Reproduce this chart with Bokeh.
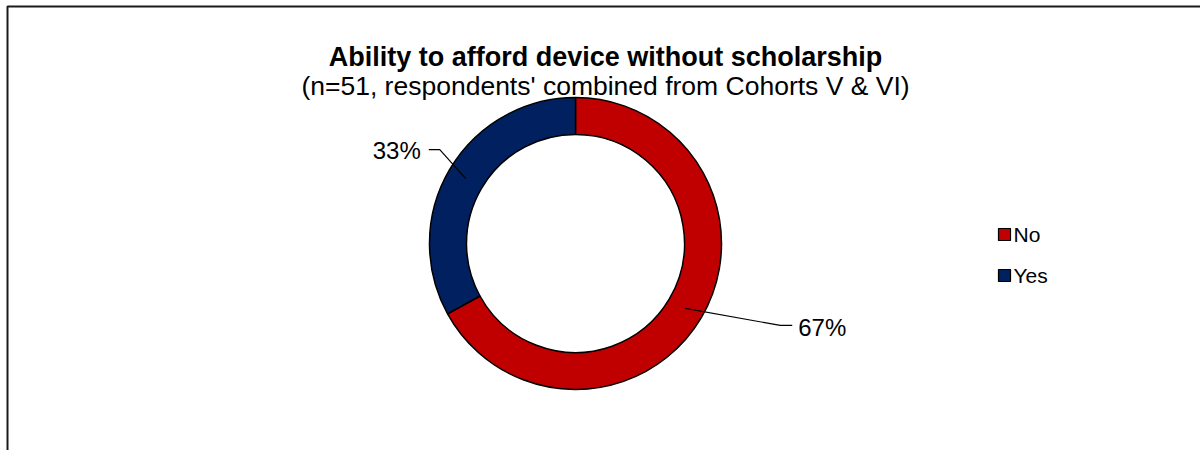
import math
from bokeh.plotting import figure
from bokeh.models import Range1d
from bokeh.embed import file_html
from bokeh.resources import INLINE
from bokeh.core.properties import value

# ---- data ----
title_text = "Ability to afford device without scholarship"
subtitle_text = "(n=51, respondents' combined from Cohorts V & VI)"
categories = ["No", "Yes"]
shares = [67, 33]
pct_labels = ["67%", "33%"]
colors = ["#C00000", "#002060"]

FONT = value("Liberation Sans")
W, H = 1200, 450


def X(px):
    return px


def Y(py):
    return H - py


p = figure(width=W, height=H, x_range=Range1d(0, W), y_range=Range1d(0, H),
           output_backend="svg", toolbar_location=None, min_border=0)
p.axis.visible = False
p.grid.visible = False
p.outline_line_color = None
p.background_fill_color = "white"
p.border_fill_color = "white"

# chart-area frame (only top and left edges fall inside the crop)
p.line([X(7), X(7), X(1210)], [Y(460), Y(6), Y(6)],
       line_color="#1a1a1a", line_width=2)

# donut
cx, cy = X(575), Y(243)
r_in, r_out = 109, 146
total = float(sum(shares))
starts, ends, mids = [], [], []
cum = 0.0
for v in shares:
    a0 = math.pi / 2 - 2 * math.pi * cum / total
    a1 = math.pi / 2 - 2 * math.pi * (cum + v) / total
    starts.append(a0)
    ends.append(a1)
    mids.append((a0 + a1) / 2)
    cum += v

p.annular_wedge(x=[cx] * len(shares), y=[cy] * len(shares),
                inner_radius=r_in, outer_radius=r_out,
                inner_radius_units="screen", outer_radius_units="screen",
                start_angle=starts, end_angle=ends, direction="clock",
                fill_color=colors, line_color="black", line_width=1.5)

# data labels with leader lines
r_mid = (r_in + r_out) / 2
for lab, m in zip(pct_labels, mids):
    sx = cx + r_mid * math.cos(m)
    sy = cy + r_mid * math.sin(m)
    if math.cos(m) >= 0:
        ex, ey = sx + 95, sy - 17
        hx = ex + 12
        p.line([sx, ex, hx], [sy, ey, ey], line_color="black", line_width=1.2)
        p.text(x=[hx + 6], y=[ey - 2], text=[lab], text_font=FONT,
               text_font_size="24px", text_color="black",
               text_align="left", text_baseline="middle")
    else:
        ex, ey = sx - 26, sy + 29
        hx = ex - 11
        p.line([sx, ex, hx], [sy, ey, ey], line_color="black", line_width=1.2)
        p.text(x=[hx - 8], y=[ey - 1], text=[lab], text_font=FONT,
               text_font_size="24px", text_color="black",
               text_align="right", text_baseline="middle")

# legend
leg_x = X(1004)
leg_y0 = Y(234)
pitch = 41
for i, (c, name) in enumerate(zip(colors, categories)):
    yy = leg_y0 - i * pitch
    p.scatter(x=[leg_x], y=[yy], marker="square", size=12,
              fill_color=c, line_color="black", line_width=1.2)
    p.text(x=[leg_x + 9], y=[yy], text=[name], text_font=FONT,
           text_font_size="21px", text_color="black",
           text_align="left", text_baseline="middle")

# titles
tx = X(605)
p.text(x=[tx], y=[Y(56)], text=[title_text], text_font=FONT,
       text_font_size="27px", text_font_style="bold", text_color="black",
       text_align="center", text_baseline="alphabetic")
p.text(x=[tx], y=[Y(85)], text=[subtitle_text], text_font=FONT,
       text_font_size="26.5px", text_color="black",
       text_align="center", text_baseline="alphabetic")

open("out.html", "w").write(file_html(p, INLINE))
